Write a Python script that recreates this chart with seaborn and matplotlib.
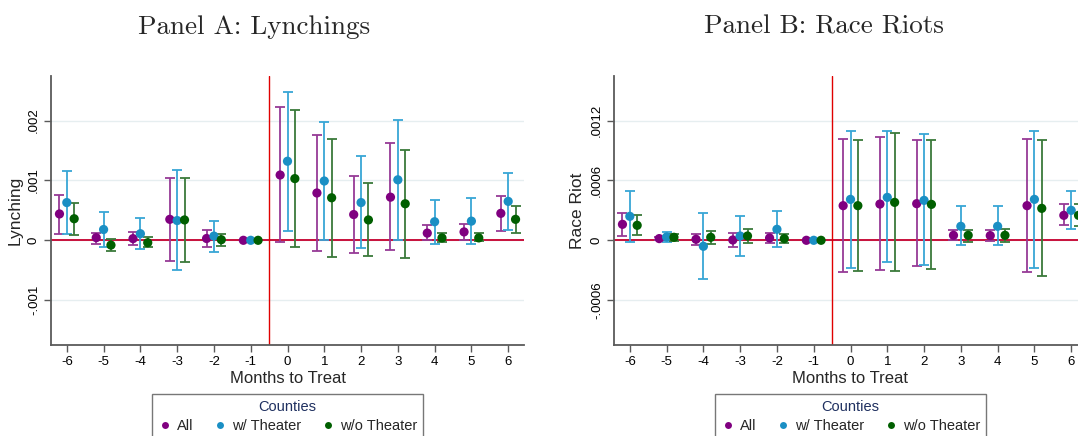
import numpy as np
import pandas as pd
import matplotlib
matplotlib.use("Agg")
import matplotlib.pyplot as plt
from matplotlib.lines import Line2D
import seaborn as sns

# ---------------- data ----------------
months = [-6, -5, -4, -3, -2, -1, 0, 1, 2, 3, 4, 5, 6]
groups = ["All", "w/ Theater", "w/o Theater"]

lynch_all = [0.00044, 0.000044, 0.000028, 0.00035, 0.00003, 0.0, 0.00109, 0.00079, 0.00043, 0.00072, 0.00012, 0.00014, 0.00045]
lynch_all_lo = [0.00011, -0.000056, -0.00008, -0.00035, -0.00011, 0.0, -0.00003, -0.00018, -0.00022, -0.00017, 0.0, 0.00001, 0.00015]
lynch_all_hi = [0.00075, 0.00013, 0.00014, 0.00104, 0.00017, 0.0, 0.00222, 0.00175, 0.00108, 0.00163, 0.00026, 0.00027, 0.00074]

lynch_th = [0.00063, 0.00018, 0.00011, 0.00033, 0.00007, 0.0, 0.00132, 0.00099, 0.00063, 0.00101, 0.00031, 0.00032, 0.00065]
lynch_th_lo = [0.00011, -0.00012, -0.00015, -0.00049, -0.00019, 0.0, 0.00015, 0.0, -0.00013, 0.00001, -0.00006, -0.00006, 0.00017]
lynch_th_hi = [0.00116, 0.00048, 0.00037, 0.00117, 0.00033, 0.0, 0.00248, 0.00198, 0.0014, 0.00201, 0.00067, 0.0007, 0.00112]

lynch_wo = [0.00036, -0.00008, -0.00004, 0.00034, 0.00001, 0.0, 0.00103, 0.00071, 0.00034, 0.00061, 0.00004, 0.00004, 0.00035]
lynch_wo_lo = [0.00009, -0.00018, -0.00012, -0.00036, -0.00009, 0.0, -0.00011, -0.00028, -0.00027, -0.0003, -0.00003, -0.00002, 0.00013]
lynch_wo_hi = [0.00062, 0.00002, 0.00005, 0.00104, 0.0001, 0.0, 0.00218, 0.00169, 0.00096, 0.00151, 0.00012, 0.00012, 0.00057]

riot_all = [0.00016, 0.000017, 0.00001, 0.000003, 0.000023, 0.0, 0.000347, 0.000363, 0.000367, 0.00005, 0.000047, 0.000347, 0.00025]
riot_all_lo = [0.00004, 0.000004, -0.000043, -0.000067, -0.00003, 0.0, -0.00032, -0.0003, -0.00026, 0.0, -0.000007, -0.00032, 0.00015]
riot_all_hi = [0.00027, 0.00003, 0.000063, 0.00007, 0.00007, 0.0, 0.00101, 0.00103, 0.001, 0.0001, 0.0001, 0.00101, 0.00036]

riot_th = [0.00024, 0.000033, -0.00006, 0.000043, 0.00011, 0.0, 0.00041, 0.00043, 0.0004, 0.00014, 0.00014, 0.00041, 0.0003]
riot_th_lo = [-0.000017, -0.00002, -0.00039, -0.00016, -0.00007, 0.0, -0.00028, -0.00022, -0.00025, -0.00005, -0.00005, -0.00028, 0.00011]
riot_th_hi = [0.00049, 0.000087, 0.00027, 0.00024, 0.00029, 0.0, 0.00109, 0.00109, 0.00106, 0.00034, 0.00034, 0.00109, 0.00049]

riot_wo = [0.00015, 0.00003, 0.00003, 0.000043, 0.000017, 0.0, 0.000347, 0.00038, 0.00036, 0.00005, 0.00005, 0.00032, 0.00025]
riot_wo_lo = [0.00005, -0.000007, -0.000033, -0.000023, -0.000023, 0.0, -0.00031, -0.00031, -0.00029, -0.000013, -0.000017, -0.00036, 0.00014]
riot_wo_hi = [0.00025, 0.000067, 0.00009, 0.00011, 0.00006, 0.0, 0.001, 0.00107, 0.001, 0.0001, 0.00011, 0.001, 0.00036]

lynch_yticks = [-0.001, 0.0, 0.001, 0.002]
lynch_yticklabels = ["-.001", "0", ".001", ".002"]
riot_yticks = [-0.0006, 0.0, 0.0006, 0.0012]
riot_yticklabels = ["-.0006", "0", ".0006", ".0012"]

# ---------------- style ----------------
sns.set_theme(style="white")
plt.rcParams["font.family"] = ["Liberation Sans", "DejaVu Sans"]

marker_colors = {"All": "#800080", "w/ Theater": "#1a8fc4", "w/o Theater": "#005f00"}
ci_colors = {"All": "#963a96", "w/ Theater": "#38a6d6", "w/o Theater": "#3a7a3a"}
offsets = {"All": -0.2, "w/ Theater": 0.0, "w/o Theater": 0.2}


def build_df(series):
    rows = []
    for g, (est, lo, hi) in series.items():
        for m, e, l, h in zip(months, est, lo, hi):
            rows.append({"month": m, "group": g, "est": e, "lo": l, "hi": h,
                         "xpos": m + offsets[g]})
    return pd.DataFrame(rows)


df_lynch = build_df({
    "All": (lynch_all, lynch_all_lo, lynch_all_hi),
    "w/ Theater": (lynch_th, lynch_th_lo, lynch_th_hi),
    "w/o Theater": (lynch_wo, lynch_wo_lo, lynch_wo_hi),
})
df_riot = build_df({
    "All": (riot_all, riot_all_lo, riot_all_hi),
    "w/ Theater": (riot_th, riot_th_lo, riot_th_hi),
    "w/o Theater": (riot_wo, riot_wo_lo, riot_wo_hi),
})

W, H = 1078, 436
fig = plt.figure(figsize=(W / 100, H / 100), dpi=100)

ax_w = 473 / W
ax_b = (H - 344.7) / H
ax_h = (344.7 - 76) / H
axA = fig.add_axes([51 / W, ax_b, ax_w, ax_h])
axB = fig.add_axes([614 / W, ax_b, ax_w, ax_h])


def draw_panel(ax, df, ylim, yticks, yticklabels, ylabel):
    for y in yticks:
        ax.axhline(y, color="#e6eef0", lw=1.0, zorder=0)
    ax.axhline(0, color="#c8103c", lw=1.4, zorder=1)
    ax.axvline(-0.5, color="#e00000", lw=1.0, zorder=1)
    for g in groups:
        sub = df[(df["group"] == g) & (df["hi"] > df["lo"])]
        ax.errorbar(sub["xpos"], sub["est"],
                    yerr=[sub["est"] - sub["lo"], sub["hi"] - sub["est"]],
                    fmt="none", ecolor=ci_colors[g], elinewidth=1.3,
                    capsize=3.6, capthick=1.3, zorder=2)
    sns.scatterplot(data=df, x="xpos", y="est", hue="group", hue_order=groups,
                    palette=marker_colors, s=44, linewidth=0, ax=ax,
                    legend=False, zorder=3)
    ax.set_xlim(-6.43, 6.43)
    ax.set_ylim(*ylim)
    ax.set_xticks(months)
    ax.set_xticklabels([str(m) for m in months], fontsize=9.5)
    ax.set_yticks(yticks)
    ax.set_yticklabels(yticklabels, fontsize=9.5, rotation=90, va="center")
    ax.set_xlabel("Months to Treat", fontsize=12, labelpad=2)
    ax.set_ylabel(ylabel, fontsize=12.5, labelpad=4)
    for s in ["top", "right"]:
        ax.spines[s].set_visible(False)
    for s in ["left", "bottom"]:
        ax.spines[s].set_color("#5a5a5a")
        ax.spines[s].set_linewidth(1.3)
    ax.tick_params(axis="both", which="both", length=5, width=1.0,
                   color="#5a5a5a", direction="out", pad=3,
                   left=True, bottom=True, labelcolor="black")
    handles = [Line2D([0], [0], marker="o", linestyle="none",
                      markerfacecolor=marker_colors[g], markeredgewidth=0,
                      markersize=5, label=g) for g in groups]
    leg = ax.legend(handles=handles, title="Counties", ncol=3,
                    loc="upper center", bbox_to_anchor=(0.5, (386.5 - 344.7) / -268.7),
                    bbox_transform=ax.transAxes, frameon=True, fontsize=10.5,
                    title_fontsize=10.5, handletextpad=0.3, columnspacing=1.35,
                    handlelength=1.0, borderpad=0.4, labelspacing=0.4,
                    fancybox=False)
    leg.get_title().set_color("#1f3060")
    leg.get_frame().set_edgecolor("#555555")
    leg.get_frame().set_linewidth(1.0)
    leg.set_clip_on(False)


ylimA = (-0.001743, 0.002743)
ylimB = (-0.001046, 0.001646)
draw_panel(axA, df_lynch, ylimA, lynch_yticks, lynch_yticklabels, "Lynching")
draw_panel(axB, df_riot, ylimB, riot_yticks, riot_yticklabels, "Race Riot")

fig.text(254 / W, 1 - 27 / H, "Panel A: Lynchings", ha="center", va="center",
         fontsize=19.5, family=["cmr10", "DejaVu Serif"])
fig.text(824 / W, 1 - 27 / H, "Panel B: Race Riots", ha="center", va="center",
         fontsize=19.5, family=["cmr10", "DejaVu Serif"])

fig.savefig("out.png", dpi=100)
